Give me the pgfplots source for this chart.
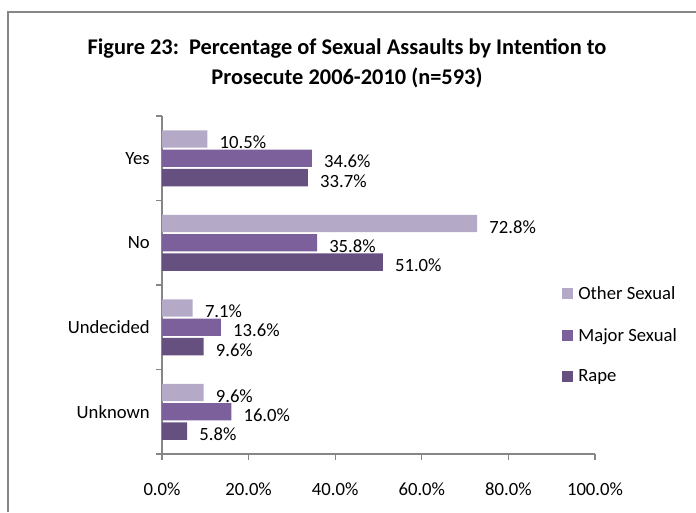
\documentclass[border=0pt]{standalone}
\usepackage{pgfplots}
\pgfplotsset{compat=1.18}
\usepackage{fontspec}
\setmainfont{Carlito}
\definecolor{other}{RGB}{181,169,200}
\definecolor{major}{RGB}{123,96,155}
\definecolor{rape}{RGB}{101,80,128}
\definecolor{axgray}{RGB}{134,134,134}
\begin{document}
\begin{tikzpicture}
\useasboundingbox (0,0) rectangle (522pt,384pt);
\draw[axgray, line width=1pt] (6pt,0) -- (6pt,375pt) -- (522pt,375pt);
\node[font=\bfseries\fontsize{16.8}{20}\selectfont, anchor=base] at (260.25pt,343.5pt) {Figure 23:\ \ Percentage of Sexual Assaults by Intention to};
\node[font=\bfseries\fontsize{16.8}{20}\selectfont, anchor=base] at (260.25pt,321pt) {Prosecute 2006-2010 (n=593)};
\begin{axis}[
  at={(121.5pt,43.5pt)}, anchor=south west,
  scale only axis, width=324.75pt, height=253.5pt,
  xbar, bar width=13pt,
  xmin=0, xmax=100, ymin=-0.5, ymax=3.5,
  axis x line*=bottom, axis y line*=left,
  axis line style={axgray, line width=1pt, -},
  /pgf/number format/assume math mode=true,
  xtick={0,20,...,100},
  xticklabel={\pgfmathprintnumber[fixed,fixed zerofill,precision=1]{\tick}\%},
  ytick={-0.5,0.5,1.5,2.5,3.5}, yticklabels={},
  extra y ticks={0,1,2,3}, extra y tick labels={Unknown,Undecided,No,Yes},
  extra y tick style={major tick length=0pt},
  tick align=outside, major tick length=4.3pt,
  tick style={axgray, line width=1pt},
  tick label style={font=\fontsize{14}{16}\selectfont, text=black},
  xticklabel style={anchor=base, yshift=-27pt},
  yticklabel style={anchor=east, inner sep=0pt, xshift=-9pt},
  point meta=x,
  nodes near coords={\pgfmathprintnumber[fixed,fixed zerofill,precision=1]{\pgfplotspointmeta}\%},
  nodes near coords style={font=\fontsize{14}{16}\selectfont, text=black, anchor=west, inner sep=0pt, xshift=9pt, yshift=-2.5pt},
  legend style={draw=none, fill=none, at={(axis description cs:0.924,0.352)}, anchor=west, inner sep=0pt, row sep=17pt, font=\fontsize{14}{16}\selectfont, nodes={inner sep=1.5pt}},
  legend cell align=left,
  legend image code/.code={\fill[#1] (0pt,-4.1pt) rectangle (8.25pt,4.1pt); \path (10.5pt,0pt);},
]
\addplot[fill=other, draw=none, bar shift=14.5pt] coordinates {(10.5,3) (72.8,2) (7.1,1) (9.6,0)};
\addplot[fill=major, draw=none, bar shift=0pt] coordinates {(34.6,3) (35.8,2) (13.6,1) (16.0,0)};
\addplot[fill=rape, draw=none, bar shift=-14.5pt] coordinates {(33.7,3) (51.0,2) (9.6,1) (5.8,0)};
\legend{Other Sexual, Major Sexual, Rape}
\end{axis}
\end{tikzpicture}
\end{document}
